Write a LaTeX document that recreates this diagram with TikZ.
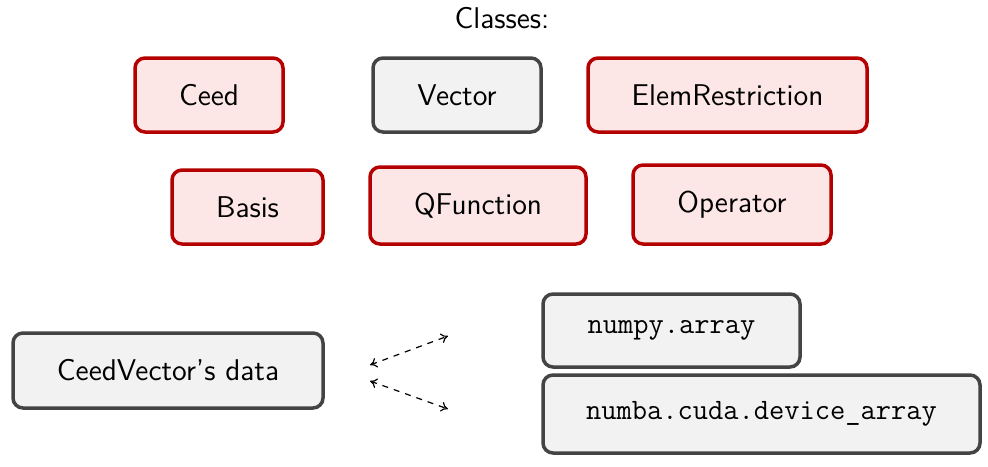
\documentclass[tikz,border=0pt]{standalone}
\usetikzlibrary{arrows.meta}
\definecolor{redline}{RGB}{180,0,0}
\definecolor{redfill}{RGB}{253,230,230}
\definecolor{grayline}{RGB}{68,68,68}
\definecolor{grayfill}{RGB}{242,242,242}
\begin{document}
\begin{tikzpicture}[x=0.5pt,y=-0.5pt,
  font=\sffamily\fontsize{15}{18}\selectfont,
  box/.style={draw, line width=1.75pt, rounded corners=5pt, inner sep=0pt, anchor=center},
  redbox/.style={box, draw=redline, fill=redfill},
  graybox/.style={box, draw=grayline, fill=grayfill},
  codetext/.style={font=\ttfamily\fontsize{14.8}{18}\selectfont},
  dasharrow/.style={dashed, line width=0.6pt, {To[length=3.5pt,width=5pt]}-{To[length=3.5pt,width=5pt]}}]
\useasboundingbox (0,0) rectangle (988,466);
\node (title) at (502,18) {Classes:};
\node[redbox, minimum width=74pt, minimum height=37pt] (ceed) at (209,95) {Ceed};
\node[graybox, minimum width=84pt, minimum height=37pt] (vector) at (457,95) {Vector};
\node[redbox, minimum width=139.5pt, minimum height=37pt] (elem) at (727.5,95) {ElemRestriction};
\node[redbox, minimum width=75.5pt, minimum height=37pt] (basis) at (247.5,207) {Basis};
\node[redbox, minimum width=108pt, minimum height=38.5pt] (qf) at (478,205.5) {QFunction};
\node[redbox, minimum width=99pt, minimum height=39.5pt] (op) at (732,204.5) {Operator};
\node[graybox, minimum width=155pt, minimum height=37.5pt] (data) at (168,370.5) {CeedVector's data};
\node[graybox, codetext, minimum width=128.5pt, minimum height=36.5pt] (numpy) at (671.5,330.5) {numpy.array};
\node[graybox, codetext, minimum width=218.5pt, minimum height=39pt] (numba) at (761.5,414) {numba.cuda.device\_array};
\coordinate (a1s) at (370,365);
\coordinate (a1e) at (448,336);
\coordinate (a2s) at (370,381);
\coordinate (a2e) at (448,409);
\draw[dasharrow] (a1s) -- (a1e);
\draw[dasharrow] (a2s) -- (a2e);
\end{tikzpicture}
\end{document}
